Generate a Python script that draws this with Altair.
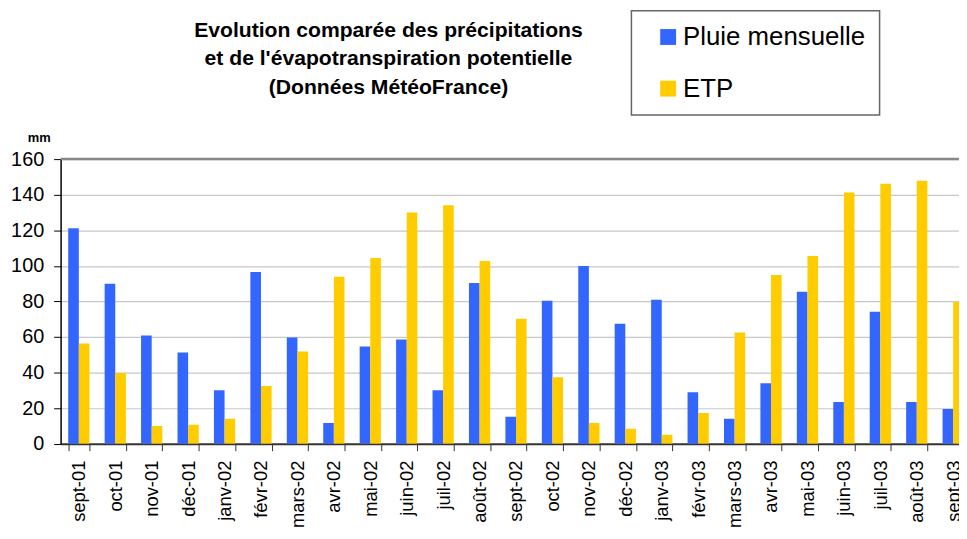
import altair as alt
import pandas as pd

months = ["sept-01", "oct-01", "nov-01", "déc-01", "janv-02", "févr-02", "mars-02",
          "avr-02", "mai-02", "juin-02", "juil-02", "août-02", "sept-02", "oct-02",
          "nov-02", "déc-02", "janv-03", "févr-03", "mars-03", "avr-03", "mai-03",
          "juin-03", "juil-03", "août-03", "sept-03"]
pluie = [121.1, 89.9, 60.8, 51.3, 30.1, 96.6, 59.7, 11.7, 54.7, 58.6, 30.1, 90.4, 15.1,
         80.4, 99.9, 67.5, 80.9, 29.0, 14.0, 34.0, 85.4, 23.4, 74.2, 23.4, 19.5]
etp = [56.4, 39.8, 10.0, 10.6, 14.0, 32.4, 51.9, 93.8, 104.4, 130.0, 134.0, 102.7, 70.3,
       37.4, 11.7, 8.4, 5.0, 17.3, 62.5, 94.9, 105.5, 141.2, 146.2, 147.9, 79.8]
series = ["Pluie mensuelle", "ETP"]
colors = ["#3366FF", "#FFCC00"]
y_ticks = [0, 20, 40, 60, 80, 100, 120, 140, 160]
y_top = [160]
title_lines = ["Evolution comparée des précipitations",
               "et de l'évapotranspiration potentielle",
               "(Données MétéoFrance)"]

rows = []
for m, p, e in zip(months, pluie, etp):
    rows.append({"mois": m, "serie": series[0], "mm": p})
    rows.append({"mois": m, "serie": series[1], "mm": e})
df = pd.DataFrame(rows)

FONT = "Liberation Sans"

y_axis = alt.Axis(values=y_ticks, title="mm", titleAngle=0, titleFontSize=13,
                  titleFontWeight="bold", titleFont=FONT, titleColor="#000",
                  titleX=-22, titleY=-18, titleAlign="center",
                  titleBaseline="alphabetic", labelOverlap=False,
                  labelFontSize=20, labelColor="#000", labelFont=FONT,
                  labelPadding=10, tickSize=7, tickColor="#000",
                  domainColor="#000", domainWidth=1.5,
                  gridColor="#c8c8c8", gridWidth=1.2)
y_scale = alt.Scale(domain=[0, 160], nice=False)

bars = alt.Chart(df).mark_bar(clip=True).encode(
    x=alt.X("mois:N", sort=months,
            scale=alt.Scale(paddingInner=0.417, paddingOuter=0.2085),
            axis=alt.Axis(title=None, labelAngle=270, labelFontSize=18.5, labelColor="#000",
                          labelFont=FONT, labelPadding=9.5, labelAlign="right",
                          labelBaseline="middle", tickBand="extent", tickSize=7,
                          tickColor="#333", domainColor="#333", domainWidth=2,
                          grid=False, labelOverlap=False)),
    xOffset=alt.XOffset("serie:N", sort=series, scale=alt.Scale(paddingInner=0, paddingOuter=0)),
    y=alt.Y("mm:Q", scale=y_scale, axis=y_axis),
    color=alt.Color("serie:N", sort=series,
                    scale=alt.Scale(domain=series, range=colors),
                    legend=alt.Legend(title=None, orient="none", legendX=575, legendY=-149.5,
                                      symbolType="square", symbolSize=256,
                                      symbolStrokeWidth=0, labelFontSize=26,
                                      labelFont=FONT, labelColor="#000", labelLimit=400,
                                      padding=13.5, rowPadding=26, symbolOffset=10.5,
                                      labelOffset=2, strokeColor="#666"))
)

top = alt.Chart(pd.DataFrame({"mm": y_top})).mark_rule(color="#888888", strokeWidth=2.5).encode(
    y=alt.Y("mm:Q", scale=y_scale, axis=y_axis)
)

chart = alt.layer(bars, top).properties(
    width=917.5, height=286.7,
    autosize=alt.AutoSizeParams(type="none"),
    padding={"left": 53, "top": 150.3, "right": -12.5, "bottom": 85},
    title=alt.Title(title_lines, fontSize=21.3, fontWeight="bold", font=FONT, color="#000",
                    anchor="middle", align="center", dx=-128.5, dy=92.5, lineHeight=28.5),
).configure_view(stroke=None).configure_legend(strokeWidth=1.5)

chart.save("out.html", embed_options={"renderer": "svg", "actions": False})
